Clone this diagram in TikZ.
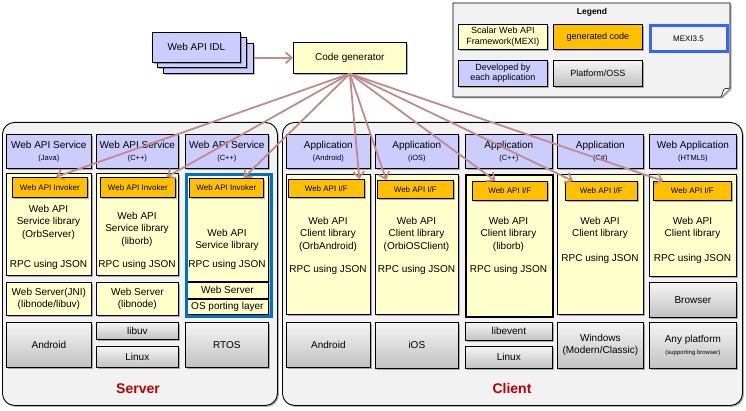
\documentclass[tikz,border=0pt]{standalone}
\usepackage{fontspec}
\setmainfont{Liberation Sans}
\usetikzlibrary{positioning,calc,arrows.meta,shadows}

\definecolor{idlblue}{HTML}{CCCCFF}
\definecolor{libyellow}{HTML}{FFFFCC}
\definecolor{genorange}{HTML}{FFC000}
\definecolor{panelgray}{HTML}{F2F2F2}
\definecolor{mexiblue}{HTML}{0070C0}
\definecolor{legblue}{HTML}{3366FF}
\definecolor{flowred}{HTML}{C08B8B}
\definecolor{labelred}{HTML}{C00000}

\newcommand{\langtag}[1]{{\fontsize{7.5}{9}\selectfont #1}}

\tikzset{
  box/.style={draw, line width=0.7pt, anchor=north west, inner sep=0pt, align=center,
    font=\fontsize{10}{12}\selectfont,
    drop shadow={shadow xshift=1.2pt, shadow yshift=-1.2pt, opacity=0.3, fill=black}},
  wh/.style 2 args={minimum width=#1pt, minimum height=#2pt},
  app/.style={box, fill=idlblue},
  lib/.style={box, fill=libyellow},
  gen/.style={box, fill=genorange, font=\fontsize{8}{10}\selectfont},
  plat/.style={box, top color=white!96!black, bottom color=black!24},
  panel/.style={draw, line width=0.9pt, fill=panelgray, rounded corners=12pt, anchor=north west,
    inner sep=0pt, drop shadow={shadow xshift=1.5pt, shadow yshift=-1.5pt, opacity=0.3, fill=black}},
  txt/.style={align=center, font=\fontsize{10}{12.5}\selectfont, inner sep=0pt},
  flow/.style={draw=flowred, line width=1.8pt, -{Straight Barb[length=6pt,width=11pt]}}
}

\begin{document}
\begin{tikzpicture}[x=1pt, y=-1pt]
    \useasboundingbox (0,0) rectangle (746,411);

    % panels
    \node[panel, wh={275}{283}] (srvpanel) at (2,122) {};
    \node[panel, wh={460}{283}] (clipanel) at (282,122) {};
    \node[font=\bfseries\fontsize{14}{16}\selectfont, text=labelred] (srvlabel) at (138,389) {Server};
    \node[font=\bfseries\fontsize{14}{16}\selectfont, text=labelred] (clilabel) at (512,388) {Client};

    % IDL and generator
    \node[app, wh={90}{30}] (idlC) at (163,43) {};
    \node[app, wh={89}{30}] (idlB) at (157,37) {};
    \node[app, wh={88}{30}] (idlA) at (152,32) {Web API IDL};
    \node[lib, wh={113}{31}] (codegen) at (293,42) {Code generator};
    \draw[flow] (idlC.east |- codegen.west) -- (codegen.west);

    % legend
    \draw[fill=panelgray, line width=0.7pt, drop shadow={shadow xshift=1.5pt, shadow yshift=-1.5pt, opacity=0.3, fill=black}]
        (453,3) -- (730,3) -- (730,88) -- (721,97) -- (453,97) -- cycle;
    \draw[fill=white, line width=0.6pt] (730,88) -- (724,89) -- (721,97);
    \node[font=\bfseries\fontsize{8.5}{10}\selectfont] (legtitle) at (592,12) {Legend};
    \node[lib, wh={89}{25}, font=\fontsize{9}{10.5}\selectfont] (legfw) at (458,24) {Scalar Web API\\Framework(MEXI)};
    \node[gen, wh={89}{25}, font=\fontsize{9}{10.5}\selectfont] (leggen) at (553,24) {generated code};
    \node[draw=legblue, line width=3pt, fill=panelgray, anchor=north west, inner sep=0pt, wh={77}{26},
        font=\fontsize{8}{10}\selectfont] (legmexi) at (648.5,24.5) {MEXI3.5};
    \node[app, wh={89}{26}, font=\fontsize{9}{10.5}\selectfont] (legapp) at (458,60) {Developed by\\each application};
    \node[plat, wh={89}{26}, font=\fontsize{9}{10.5}\selectfont] (legplat) at (553,60) {Platform/OSS};

    % server side
    \foreach \x/\w/\nm/\lang in {6/85/A/Java, 96/82/B/C++, 185/83/C/C++} {
        \node[app, wh={\w}{34}] (svc\nm) at (\x,134) {Web API Service\\\langtag{(\lang)}};
    }
    \node[lib, wh={85}{102}] (slibA) at (6,173) {};
    \node[lib, wh={82}{102}] (slibB) at (96,173) {};
    \node[lib, wh={82}{106}] (slibC) at (186,175) {};
    \node[gen, wh={75}{20}] (invA) at (12,177) {Web API Invoker};
    \node[gen, wh={75}{20}] (invB) at (100,177) {Web API Invoker};
    \node[gen, wh={74}{19}] (invC) at (189,178) {Web API Invoker};
    \node[txt] (stxtA) at (48.5,222) {Web API\\Service library\\(OrbServer)};
    \node[txt] (stxtB) at (137,229) {Web API\\Service library\\(liborb)};
    \node[txt] (stxtC) at (227,240) {Web API\\Service library};
    \foreach \x/\nm in {48.5/A, 137/B, 227/C} {
        \node[txt] (srpc\nm) at (\x,265) {RPC using JSON};
    }
    \node[lib, wh={85}{33}] (swebA) at (6,282) {Web Server(JNI)\\(libnode/libuv)};
    \node[lib, wh={82}{33}] (swebB) at (96,282) {Web Server\\(libnode)};
    \node[lib, wh={82}{16}] (swebC) at (186,282) {Web Server};
    \node[lib, wh={82}{15}] (sportC) at (186,299) {OS porting layer};
    \node[draw=mexiblue, line width=3pt, anchor=north west, inner sep=0pt, wh={85}{141}] (mexiframe) at (184.5,173.5) {};
    \node[plat, wh={85}{45}] (sosA) at (6,322) {Android};
    \node[plat, wh={82}{17}] (slibuv) at (96,322) {libuv};
    \node[plat, wh={82}{21}] (slinux) at (96,346) {Linux};
    \node[plat, wh={83}{45}] (sosC) at (185,322) {RTOS};

    % client side
    \foreach \x/\w/\nm/\title/\lang in {286/84/A/Application/Android, 375/83/B/Application/iOS,
            465/87/C/Application/C++, 557/86/D/Application/C\#, 649/87/E/Web Application/HTML5} {
        \node[app, wh={\w}{34}] (cli\nm) at (\x,134) {\title\\\langtag{(\lang)}};
    }
    \node[lib, wh={84}{140}] (clibA) at (286,174) {};
    \node[lib, wh={83}{140}] (clibB) at (375,174) {};
    \node[lib, wh={87}{142}, line width=1.8pt] (clibC) at (465,174) {};
    \node[lib, wh={86}{140}] (clibD) at (557,174) {};
    \node[lib, wh={87}{102}] (clibE) at (649,174) {};
    \node[gen, wh={76}{18}] (ifA) at (288,179) {Web API I/F};
    \node[gen, wh={76}{18}] (ifB) at (377,180) {Web API I/F};
    \node[gen, wh={75}{19}] (ifC) at (472,181) {Web API I/F};
    \node[gen, wh={72}{19}] (ifD) at (565,181) {Web API I/F};
    \node[gen, wh={78}{19}] (ifE) at (653,181) {Web API I/F};
    \node[txt] (ctxtA) at (328,234) {Web API\\Client library\\(OrbAndroid)};
    \node[txt] (ctxtB) at (416.5,234) {Web API\\Client library\\(OrbiOSClient)};
    \node[txt] (ctxtC) at (508.5,234) {Web API\\Client library\\(liborb)};
    \node[txt] (ctxtD) at (600,228) {Web API\\Client library};
    \node[txt] (ctxtE) at (692.5,228) {Web API\\Client library};
    \foreach \x/\y/\nm in {328/270/A, 416.5/270/B, 508.5/270/C, 600/259/D, 692.5/259/E} {
        \node[txt] (crpc\nm) at (\x,\y) {RPC using JSON};
    }
    \node[plat, wh={87}{35}] (cbrowser) at (649,282) {Browser};
    \node[plat, wh={84}{45}] (cosA) at (286,322) {Android};
    \node[plat, wh={83}{46}] (cosB) at (375,322) {iOS};
    \node[plat, wh={87}{18}] (clibevent) at (465,322) {libevent};
    \node[plat, wh={87}{22}] (clinux) at (465,346) {Linux};
    \node[plat, wh={86}{46}] (cosD) at (557,322) {Windows\\(Modern/Classic)};
    \node[plat, wh={87}{46}] (cosE) at (649,322) {Any platform\\{\fontsize{6}{8}\selectfont (supporting browser)}};

    % generated code
    \foreach \tgt/\f in {invA/0.58, invB/0.88, invC/0.73, ifA/0.93, ifB/0.12, ifC/0.31, ifD/0.11, ifE/0.13} {
        \draw[flow] (codegen.south) -- ($(\tgt.north west)!\f!(\tgt.north east)$);
    }
\end{tikzpicture}
\end{document}
